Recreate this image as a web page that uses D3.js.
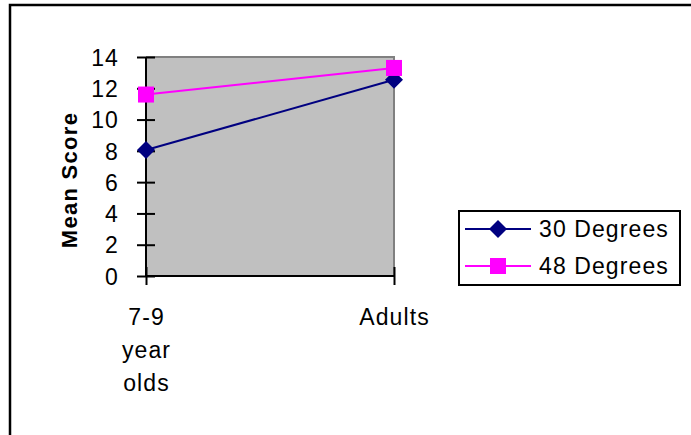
<!DOCTYPE html>
<html>
<head>
<meta charset="utf-8">
<script src="https://cdn.jsdelivr.net/npm/d3@7"></script>
<style>
  html, body { margin: 0; padding: 0; background: #fff; }
  svg { display: block; }
  text { font-family: "Liberation Sans", Arial, sans-serif; fill: #000; }
</style>
</head>
<body>
<svg id="chart" width="691" height="435"></svg>
<script>
// Mean score by age group for two angle conditions
const categories = ["7-9 year olds", "Adults"];
const categoryLines = [["7-9", "year", "olds"], ["Adults"]];
const seriesNames = ["30 Degrees", "48 Degrees"];
const deg30 = [8.05, 12.55];
const deg48 = [11.6, 13.3];
const yTicks = [0, 2, 4, 6, 8, 10, 12, 14];

const series = [
  { name: seriesNames[0], values: deg30, color: "#000080", marker: "diamond" },
  { name: seriesNames[1], values: deg48, color: "#FF00FF", marker: "square" }
];

const svg = d3.select("#chart");

// outer chart frame (continues past the right and bottom edges)
svg.append("rect")
  .attr("x", 10).attr("y", 5)
  .attr("width", 700).attr("height", 450)
  .attr("fill", "#fff").attr("stroke", "#000").attr("stroke-width", 2.5);

const plot = { left: 146, right: 394, top: 57, bottom: 276 };

const x = d3.scalePoint().domain(categories).range([plot.left, plot.right]);
const y = d3.scaleLinear().domain([0, 14]).range([plot.bottom, plot.top]);

// plot area
svg.append("rect")
  .attr("x", plot.left).attr("y", plot.top)
  .attr("width", plot.right - plot.left).attr("height", plot.bottom - plot.top)
  .attr("fill", "#C0C0C0");
svg.append("path")
  .attr("d", `M${plot.left},${plot.top}H${plot.right}V${plot.bottom}`)
  .attr("fill", "none").attr("stroke", "#808080").attr("stroke-width", 2);

const fontSize = 23;
const spacing = 1.1;

// y axis
const yAxis = svg.append("g").attr("transform", `translate(${plot.left},0)`)
  .call(d3.axisLeft(y).tickValues(yTicks).tickSize(0).tickPadding(0).tickFormat(d3.format("d")));
yAxis.select(".domain").remove();
yAxis.selectAll(".tick text").remove();
yAxis.selectAll(".tick line")
  .attr("x1", -9).attr("x2", 9)
  .attr("stroke", "#000").attr("stroke-width", 2);
yAxis.selectAll(".tick").append("text")
  .attr("x", -27).attr("dy", "0.36em")
  .attr("text-anchor", "end")
  .style("font-size", fontSize + "px")
  .style("letter-spacing", spacing + "px")
  .text(d => d);
svg.append("line")
  .attr("x1", plot.left).attr("x2", plot.left)
  .attr("y1", plot.top).attr("y2", plot.bottom + 1)
  .attr("stroke", "#000").attr("stroke-width", 2);

// x axis
const xAxis = svg.append("g").attr("transform", `translate(0,${plot.bottom})`)
  .call(d3.axisBottom(x).tickSize(0).tickPadding(0));
xAxis.select(".domain").remove();
xAxis.selectAll(".tick text").remove();
xAxis.selectAll(".tick line")
  .attr("y1", -9).attr("y2", 9)
  .attr("stroke", "#000").attr("stroke-width", 2);
xAxis.selectAll(".tick").each(function(d, i) {
  const t = d3.select(this).append("text")
    .attr("text-anchor", "middle")
    .style("font-size", fontSize + "px")
    .style("letter-spacing", spacing + "px");
  categoryLines[i].forEach((line, j) => {
    t.append("tspan").attr("x", 0).attr("y", 49 + j * 33).text(line);
  });
});
svg.append("line")
  .attr("x1", plot.left - 1).attr("x2", plot.right + 1)
  .attr("y1", plot.bottom).attr("y2", plot.bottom)
  .attr("stroke", "#000").attr("stroke-width", 2);

// y axis title
svg.append("text")
  .attr("transform", `translate(77,180) rotate(-90)`)
  .attr("text-anchor", "middle")
  .style("font-size", "22px")
  .style("font-weight", "bold")
  .style("letter-spacing", "1.3px")
  .text("Mean Score");

// markers
function drawMarker(g, type, color) {
  if (type === "diamond") {
    g.append("path").attr("d", "M0,-9L9,0L0,9L-9,0Z").attr("fill", color);
  } else {
    g.append("rect").attr("x", -8).attr("y", -8).attr("width", 16).attr("height", 16).attr("fill", color);
  }
}

const line = d3.line().x((d, i) => x(categories[i])).y(d => y(d));

series.forEach(s => {
  svg.append("path")
    .attr("d", line(s.values))
    .attr("fill", "none").attr("stroke", s.color).attr("stroke-width", 2);
});
series.forEach(s => {
  s.values.forEach((v, i) => {
    const g = svg.append("g").attr("transform", `translate(${x(categories[i])},${y(v)})`);
    drawMarker(g, s.marker, s.color);
  });
});

// legend
const legend = svg.append("g");
legend.append("rect")
  .attr("x", 459).attr("y", 211)
  .attr("width", 221).attr("height", 74)
  .attr("fill", "#fff").attr("stroke", "#000").attr("stroke-width", 2);
series.forEach((s, i) => {
  const cy = 229 + i * 37;
  legend.append("line")
    .attr("x1", 465).attr("x2", 531).attr("y1", cy).attr("y2", cy)
    .attr("stroke", s.color).attr("stroke-width", 2);
  const g = legend.append("g").attr("transform", `translate(498,${cy})`);
  drawMarker(g, s.marker, s.color);
  legend.append("text")
    .attr("x", 539).attr("y", cy).attr("dy", "0.36em")
    .style("font-size", fontSize + "px")
    .style("letter-spacing", spacing + "px")
    .text(s.name);
});
</script>
</body>
</html>
